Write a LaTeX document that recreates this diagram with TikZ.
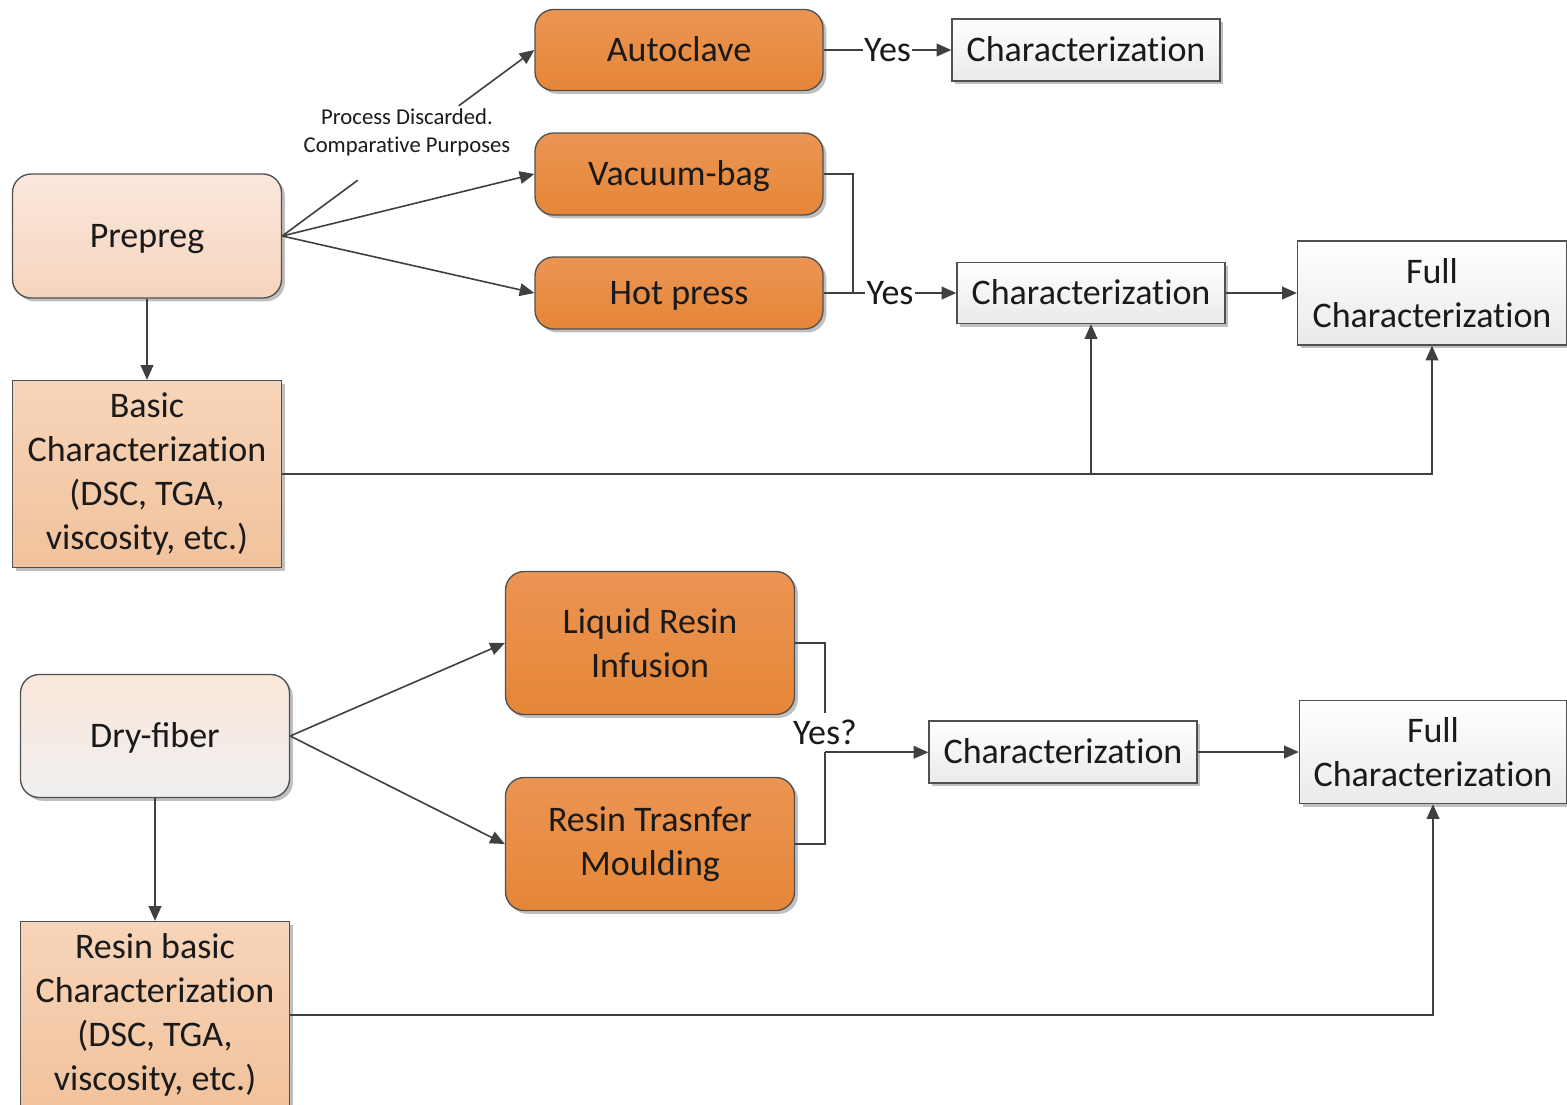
\documentclass[tikz,border=0pt]{standalone}
\usepackage{fontspec}
\setmainfont{Carlito}
\usetikzlibrary{arrows.meta,shadows}
\newcommand{\chz}{Characterizat\kern0pt ion}
\definecolor{orgtop}{RGB}{235,149,83}
\definecolor{orgbot}{RGB}{229,134,56}
\definecolor{pretop}{RGB}{251,232,220}
\definecolor{prebot}{RGB}{246,212,190}
\definecolor{bastop}{RGB}{247,213,186}
\definecolor{basbot}{RGB}{241,194,156}
\definecolor{drytop}{RGB}{251,231,218}
\definecolor{drybot}{RGB}{239,239,239}
\definecolor{boxbot}{RGB}{234,234,234}
\definecolor{linec}{RGB}{64,64,64}
\definecolor{edgec}{RGB}{80,80,80}
\definecolor{txt}{RGB}{26,26,26}
\tikzset{
  x=0.75pt, y=-0.75pt,
  base/.style={draw=edgec, line width=1pt, inner sep=0pt, align=center, text=txt,
    font=\fontsize{27}{33}\selectfont,
    drop shadow={shadow xshift=2.5pt, shadow yshift=-2.5pt, opacity=0.25, fill=black}},
  oneline/.style={text height=18.9pt, text depth=1.6pt},
  procbox/.style={base, rounded corners=14pt, top color=orgtop, bottom color=orgbot},
  prebox/.style={base, rounded corners=14pt, top color=pretop, bottom color=prebot},
  drybox/.style={base, rounded corners=14pt, top color=drytop, bottom color=drybot},
  basbox/.style={base, top color=bastop, bottom color=basbot},
  charbox/.style={base, top color=white, bottom color=boxbot},
  conn/.style={draw=linec, line width=1.2pt, -{Triangle[length=11pt,width=9.5pt]}},
  plain/.style={draw=linec, line width=1.2pt},
  lbl/.style={fill=white, inner sep=1pt, text=txt, font=\fontsize{27}{33}\selectfont},
  small/.style={inner sep=0pt, align=center, text=txt, font=\fontsize{17}{21}\selectfont}
}
\begin{document}
\begin{tikzpicture}
\clip (0,0) rectangle (1567,1104);
\fill[white] (0,0) rectangle (1567,1104);

% top section
\node[procbox, oneline, minimum width=288*0.75pt, minimum height=81*0.75pt] (auto) at (679,50) {Autoclave};
\node[procbox, oneline, minimum width=288*0.75pt, minimum height=82*0.75pt] (vac) at (679,174) {Vacuum-bag};
\node[procbox, oneline, minimum width=288*0.75pt, minimum height=72*0.75pt] (hot) at (679,293) {Hot press};
\node[prebox, oneline, minimum width=269*0.75pt, minimum height=124*0.75pt] (pre) at (147,236) {Prepreg};
\node[basbox, minimum width=269*0.75pt, minimum height=187*0.75pt] (bas) at (147,474)
  {Basic\\\chz\\(DSC, TGA,\\viscosity, etc.)};
\node[charbox, oneline, minimum width=268*0.75pt, minimum height=62*0.75pt] (c1) at (1086,50) {\chz};
\node[charbox, oneline, minimum width=268*0.75pt, minimum height=61*0.75pt] (c2) at (1091,293) {\chz};
\node[charbox, minimum width=269*0.75pt, minimum height=104*0.75pt] (f1) at (1432,293) {Full\\\chz};

% bottom section
\node[drybox, oneline, minimum width=269*0.75pt, minimum height=123*0.75pt] (dry) at (155,736) {Dry-fiber};
\node[procbox, minimum width=289*0.75pt, minimum height=143*0.75pt] (lri) at (650,643) {Liquid Resin\\Infusion};
\node[procbox, minimum width=289*0.75pt, minimum height=133*0.75pt] (rtm) at (650,844) {Resin Trasnfer\\Moulding};
\node[basbox, minimum width=269*0.75pt, minimum height=187*0.75pt] (rbas) at (155,1015)
  {Resin basic\\\chz\\(DSC, TGA,\\viscosity, etc.)};
\node[charbox, oneline, minimum width=268*0.75pt, minimum height=62*0.75pt] (c3) at (1063,752) {\chz};
\node[charbox, minimum width=267*0.75pt, minimum height=103*0.75pt] (f2) at (1433,752) {Full\\\chz};

% top connectors
\path (pre.east) -- (auto.west) coordinate[pos=0.30] (g1) coordinate[pos=0.70] (g2);
\draw[plain] (pre.east) -- (g1);
\draw[conn] (g2) -- (auto.west);
\node[small] (disc) at (407,132) {Process Discarded.\\Comparat\kern0pt ive Purposes};
\draw[conn] (pre.east) -- (vac.west);
\draw[conn] (pre.east) -- (hot.west);
\draw[conn] (pre.south) -- (bas.north);
\draw[conn] (auto.east) -- node[lbl, oneline] (y1) {Yes} (c1.west);
\coordinate (j1) at (853,293);
\draw[plain] (vac.east) -| (j1);
\draw[conn] (hot.east) -- node[lbl, oneline] (y2) {Yes} (c2.west);
\draw[conn] (c2.east) -- (f1.west);
\coordinate (j2) at (bas.east -| f1.south);
\draw[conn] (bas.east) -- (j2) -- (f1.south);
\coordinate (j3) at (bas.east -| c2.south);
\draw[conn] (j3) -- (c2.south);

% bottom connectors
\draw[conn] (dry.east) -- (lri.west);
\draw[conn] (dry.east) -- (rtm.west);
\draw[conn] (dry.south) -- (rbas.north);
\node[inner sep=0pt, minimum height=39*0.75pt, text=txt, font=\fontsize{27}{33}\selectfont] (yq) at (825,732.5) {Yes?};
\draw[plain] (lri.east) -| (yq.north);
\draw[plain] (rtm.east) -| (yq.south);
\draw[conn] (yq.south) -- (yq.south -| c3.west);
\draw[conn] (c3.east) -- (f2.west);
\coordinate (j4) at (rbas.east -| f2.south);
\draw[conn] (rbas.east) -- (j4) -- (f2.south);
\end{tikzpicture}
\end{document}
